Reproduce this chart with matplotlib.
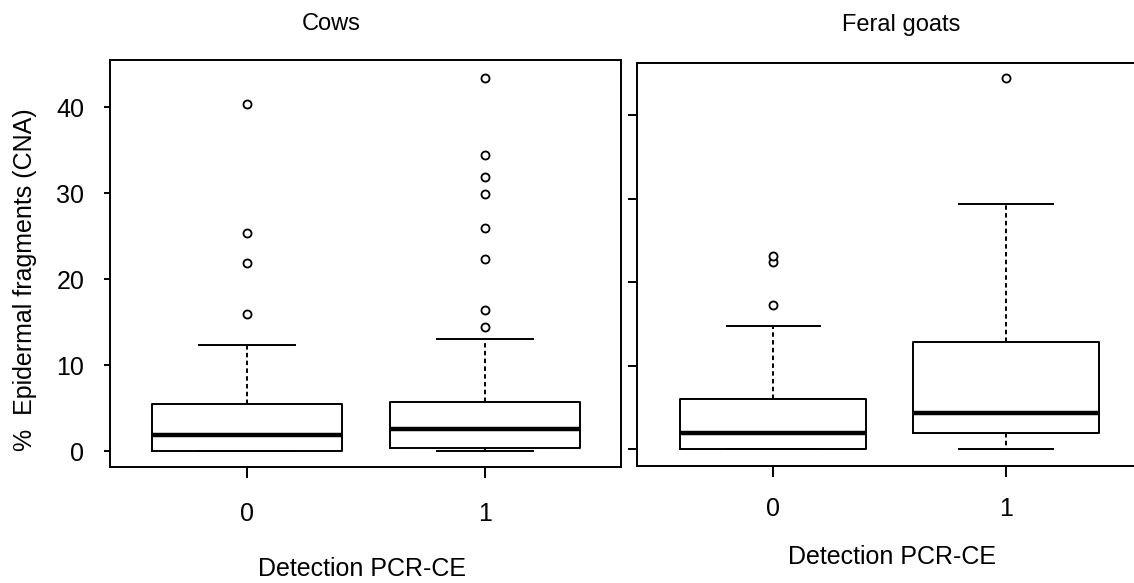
import matplotlib
matplotlib.use('Agg')
import matplotlib.pyplot as plt

plt.rcParams['font.family'] = ['Liberation Sans', 'DejaVu Sans']

W, H = 1134, 583

groups = ['0', '1']

# Cows: box stats per group
cows_q1 = [0.0, 0.3]
cows_med = [1.9, 2.6]
cows_q3 = [5.5, 5.7]
cows_whislo = [0.0, 0.0]
cows_whishi = [12.3, 13.0]
cows_fliers = [[16.0, 21.9, 25.4, 40.4],
               [14.4, 16.4, 22.4, 25.9, 29.9, 31.9, 34.4, 43.4]]

# Feral goats
goats_q1 = [0.0, 1.9]
goats_med = [1.9, 4.4]
goats_q3 = [6.0, 12.85]
goats_whislo = [0.0, 0.0]
goats_whishi = [14.8, 29.4]
goats_fliers = [[17.25, 22.4, 23.2], [44.5]]

yticks = [0, 10, 20, 30, 40]


def make_stats(q1, med, q3, lo, hi, fliers):
    stats = []
    for i in range(len(q1)):
        stats.append({'q1': q1[i], 'med': med[i], 'q3': q3[i],
                      'whislo': lo[i], 'whishi': hi[i], 'fliers': fliers[i]})
    return stats


def draw_panel(ax, stats):
    lw = 1.4
    ax.bxp(stats, positions=[1, 2], widths=0.8, capwidths=0.4,
           showfliers=True,
           boxprops=dict(color='black', linewidth=lw),
           medianprops=dict(color='black', linewidth=3.2, solid_capstyle='butt'),
           whiskerprops=dict(color='black', linewidth=lw, linestyle=(0, (2.3, 1.7))),
           capprops=dict(color='black', linewidth=lw),
           flierprops=dict(marker='o', markersize=5.8, markerfacecolor='white',
                           markeredgecolor='black', markeredgewidth=1.3))
    for s in ax.spines.values():
        s.set_linewidth(1.4)
        s.set_color('black')
    ax.set_xticks([1, 2])
    ax.set_xticklabels(groups)
    ax.set_yticks(yticks)
    ax.tick_params(axis='x', length=8, width=1.4, labelsize=18)
    ax.tick_params(axis='y', width=1.4, labelsize=18)


fig = plt.figure(figsize=(W / 100, H / 100), dpi=100)

# left panel: x 110..621 px, y 60..467 px
ax1 = fig.add_axes([110 / W, 1 - 467 / H, 511 / W, 407 / H])
draw_panel(ax1, make_stats(cows_q1, cows_med, cows_q3, cows_whislo, cows_whishi, cows_fliers))
ax1.set_xlim(0.424, 2.571)
ax1.set_ylim(-1.86, 45.5)
ax1.tick_params(axis='y', length=4.5, pad=14)
ax1.tick_params(axis='x', pad=17)

# right panel: x 637..1142 px (runs past the edge), y 63..466 px
ax2 = fig.add_axes([637.3 / W, 1 - 466 / H, 504.7 / W, 403.3 / H])
draw_panel(ax2, make_stats(goats_q1, goats_med, goats_q3, goats_whislo, goats_whishi, goats_fliers))
ax2.set_xlim(0.4155, 2.5845)
ax2.set_ylim(-2.0, 46.3)
ax2.tick_params(axis='y', length=6.5, labelleft=False)
ax2.tick_params(axis='x', pad=14)

fig.text(331 / W, 1 - 30 / H, 'Cows', ha='center', va='baseline', fontsize=17)
fig.text(901 / W, 1 - 31 / H, 'Feral goats', ha='center', va='baseline', fontsize=17)
fig.text(362.5 / W, 1 - 576 / H, 'Detection PCR-CE', ha='center', va='baseline', fontsize=18)
fig.text(892 / W, 1 - 564 / H, 'Detection PCR-CE', ha='center', va='baseline', fontsize=18)
fig.text(25 / W, 1 - 280 / H, '%  Epidermal fragments (CNA)', ha='center', va='center',
         rotation=90, fontsize=18)

fig.savefig('out.png', dpi=100, facecolor='white')
